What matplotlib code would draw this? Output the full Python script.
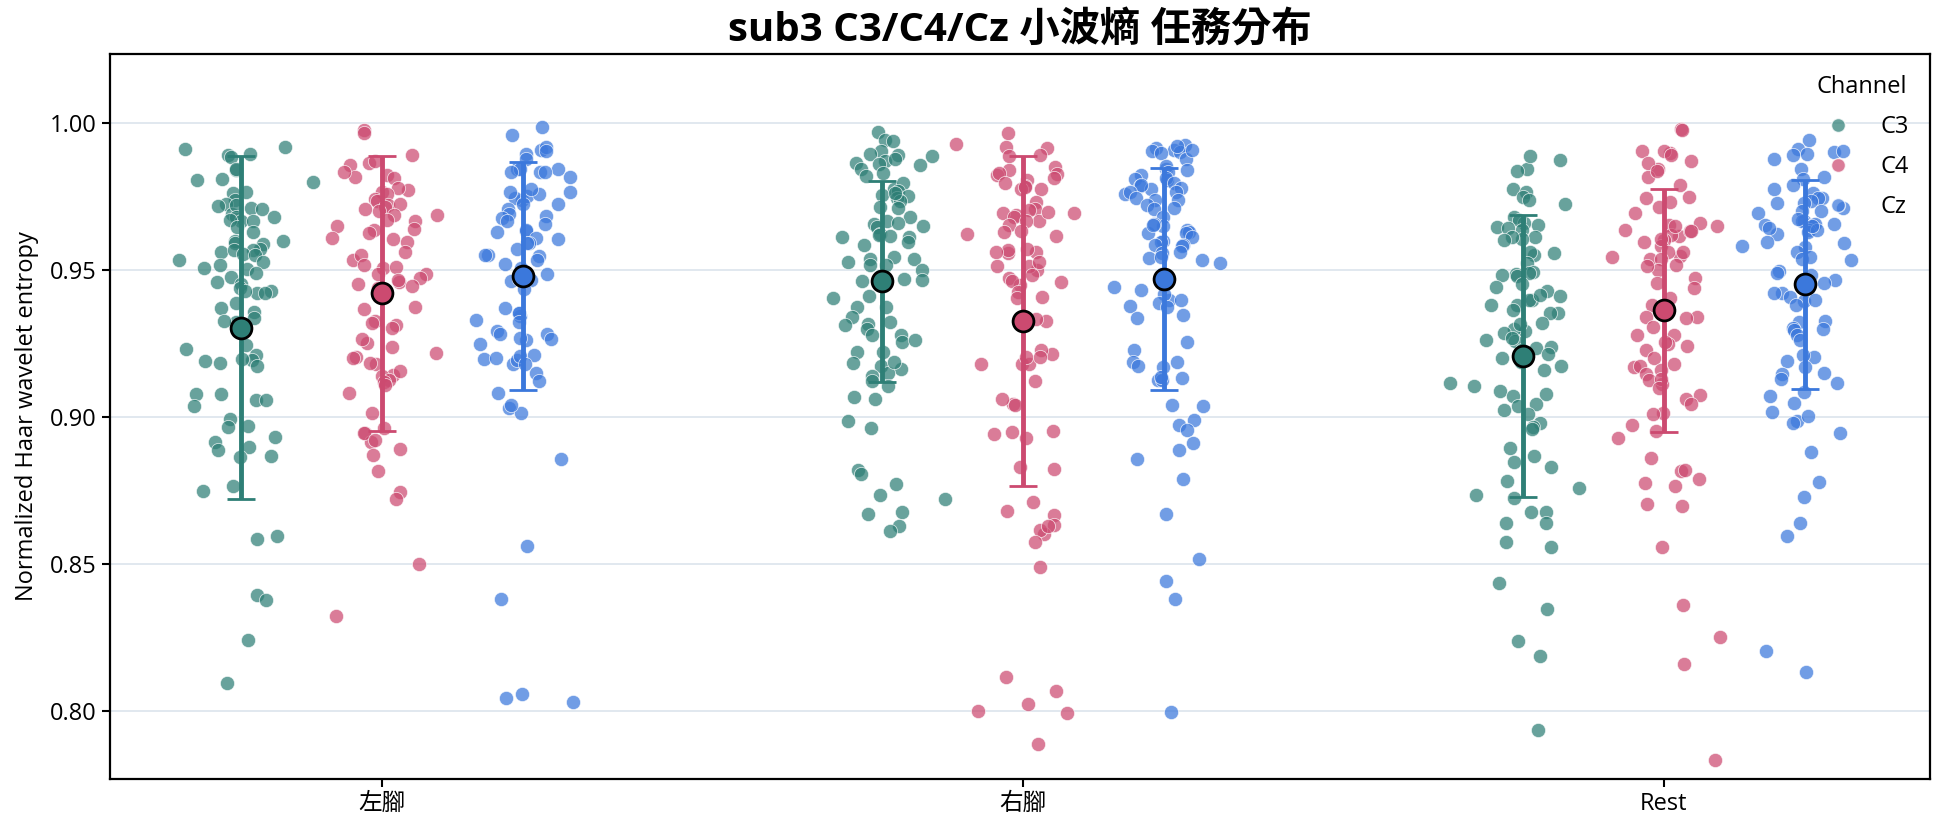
import matplotlib
matplotlib.use("Agg")
import matplotlib.pyplot as plt
import numpy as np
from matplotlib.lines import Line2D

plt.rcParams['font.family'] = ['Open Sans', 'Noto Sans CJK TC', 'DejaVu Sans']

## categories / channels
tasks = ['左腳', '右腳', 'Rest']
channels = ['C3', 'C4', 'Cz']
colors = {'C3': '#2e7f76', 'C4': '#cc4a70', 'Cz': '#3b78dc'}

## visible trial values (task, channel)
left_C3 = [0.9916, 0.9911, 0.9895, 0.9889, 0.9882, 0.9838, 0.9806, 0.9844, 0.9809, 0.9797,
           0.9766, 0.9762, 0.9737, 0.9724, 0.9718, 0.9689, 0.9711, 0.9720, 0.9708, 0.9680,
           0.9667, 0.9680, 0.9667, 0.9670, 0.9644, 0.9629, 0.9597, 0.9597, 0.9591, 0.9589,
           0.9559, 0.9566, 0.9572, 0.9566, 0.9553, 0.9549, 0.9534, 0.9528, 0.9515, 0.9505,
           0.9503, 0.9490, 0.9477, 0.9458, 0.9452, 0.9439, 0.9427, 0.9420, 0.9427, 0.9420,
           0.9389, 0.9370, 0.9357, 0.9338, 0.9323, 0.9325, 0.9243, 0.9230, 0.9209, 0.9192,
           0.9189, 0.9196, 0.9182, 0.9173, 0.9078, 0.9078, 0.9059, 0.9059, 0.9038, 0.8992,
           0.8971, 0.8965, 0.8933, 0.8916, 0.8897, 0.8889, 0.8867, 0.8863, 0.8766, 0.8747,
           0.8595, 0.8587, 0.8395, 0.8378, 0.8243, 0.8097]
left_C4 = [0.9976, 0.9965, 0.9891, 0.9855, 0.9863, 0.9870, 0.9823, 0.9813, 0.9817, 0.9834,
           0.9763, 0.9770, 0.9777, 0.9756, 0.9742, 0.9721, 0.9735, 0.9724, 0.9707, 0.9714,
           0.9700, 0.9685, 0.9671, 0.9685, 0.9667, 0.9639, 0.9650, 0.9636, 0.9624, 0.9605,
           0.9607, 0.9596, 0.9562, 0.9534, 0.9551, 0.9515, 0.9505, 0.9508, 0.9487, 0.9487,
           0.9459, 0.9423, 0.9473, 0.9466, 0.9444, 0.9451, 0.9437, 0.9366, 0.9373, 0.9313,
           0.9327, 0.9321, 0.9303, 0.9253, 0.9264, 0.9239, 0.9218, 0.9179, 0.9185, 0.9203,
           0.9199, 0.9144, 0.9157, 0.9140, 0.9125, 0.9118, 0.9108, 0.9083, 0.9012, 0.8962,
           0.8944, 0.8916, 0.8944, 0.8923, 0.8892, 0.8870, 0.8816, 0.8746, 0.8721, 0.8502,
           0.8325]
left_Cz = [0.9986, 0.9957, 0.9892, 0.9908, 0.9916, 0.9905, 0.9878, 0.9842, 0.9842, 0.9844,
           0.9831, 0.9831, 0.9817, 0.9834, 0.9763, 0.9736, 0.9743, 0.9752, 0.9756, 0.9766,
           0.9773, 0.9723, 0.9723, 0.9706, 0.9682, 0.9689, 0.9675, 0.9666, 0.9628, 0.9631,
           0.9655, 0.9635, 0.9608, 0.9605, 0.9590, 0.9590, 0.9571, 0.9549, 0.9547, 0.9549,
           0.9533, 0.9488, 0.9486, 0.9506, 0.9520, 0.9465, 0.9463, 0.9468, 0.9436, 0.9344,
           0.9355, 0.9371, 0.9355, 0.9330, 0.9323, 0.9292, 0.9283, 0.9265, 0.9249, 0.9263,
           0.9269, 0.9283, 0.9212, 0.9181, 0.9198, 0.9195, 0.9208, 0.9179, 0.9202, 0.9151,
           0.9124, 0.9083, 0.9032, 0.9015, 0.9042, 0.8859, 0.8562, 0.8383, 0.8045, 0.8058,
           0.8031]
right_C3 = [0.9970, 0.9942, 0.9938, 0.9905, 0.9886, 0.9893, 0.9889, 0.9871, 0.9878, 0.9864,
            0.9856, 0.9859, 0.9829, 0.9841, 0.9819, 0.9774, 0.9794, 0.9767, 0.9752, 0.9745,
            0.9755, 0.9733, 0.9760, 0.9715, 0.9711, 0.9678, 0.9666, 0.9656, 0.9660, 0.9648,
            0.9645, 0.9622, 0.9619, 0.9611, 0.9611, 0.9616, 0.9596, 0.9585, 0.9537, 0.9545,
            0.9536, 0.9518, 0.9527, 0.9515, 0.9500, 0.9463, 0.9467, 0.9478, 0.9470, 0.9444,
            0.9404, 0.9411, 0.9374, 0.9374, 0.9340, 0.9322, 0.9315, 0.9312, 0.9300, 0.9280,
            0.9280, 0.9255, 0.9263, 0.9221, 0.9221, 0.9185, 0.9174, 0.9162, 0.9151, 0.9188,
            0.9141, 0.9107, 0.9122, 0.9062, 0.9067, 0.8985, 0.8961, 0.8820, 0.8806, 0.8773,
            0.8736, 0.8721, 0.8677, 0.8669, 0.8628, 0.8614]
right_C4 = [0.9964, 0.9915, 0.9918, 0.9927, 0.9890, 0.9886, 0.9849, 0.9838, 0.9823, 0.9826,
            0.9829, 0.9804, 0.9812, 0.9785, 0.9774, 0.9782, 0.9774, 0.9794, 0.9730, 0.9708,
            0.9693, 0.9685, 0.9693, 0.9666, 0.9678, 0.9705, 0.9666, 0.9696, 0.9651, 0.9631,
            0.9622, 0.9628, 0.9614, 0.9556, 0.9567, 0.9562, 0.9562, 0.9571, 0.9512, 0.9500,
            0.9512, 0.9527, 0.9473, 0.9458, 0.9481, 0.9448, 0.9463, 0.9426, 0.9408, 0.9404,
            0.9325, 0.9334, 0.9215, 0.9226, 0.9181, 0.9181, 0.9181, 0.9203, 0.9203, 0.9122,
            0.9045, 0.9040, 0.9062, 0.8951, 0.8929, 0.8948, 0.8941, 0.8829, 0.8823, 0.8711,
            0.8681, 0.8666, 0.8632, 0.8602, 0.8616, 0.8629, 0.8577, 0.8491, 0.8117, 0.8068,
            0.8024, 0.7994, 0.8001, 0.7890]
right_Cz = [0.9923, 0.9915, 0.9908, 0.9901, 0.9920, 0.9905, 0.9897, 0.9878, 0.9908, 0.9844,
            0.9852, 0.9831, 0.9838, 0.9823, 0.9809, 0.9804, 0.9785, 0.9774, 0.9812, 0.9794,
            0.9789, 0.9779, 0.9757, 0.9764, 0.9764, 0.9745, 0.9737, 0.9737, 0.9720, 0.9708,
            0.9711, 0.9681, 0.9648, 0.9634, 0.9626, 0.9656, 0.9651, 0.9629, 0.9626, 0.9611,
            0.9599, 0.9596, 0.9586, 0.9586, 0.9582, 0.9559, 0.9540, 0.9556, 0.9542, 0.9534,
            0.9522, 0.9485, 0.9448, 0.9441, 0.9399, 0.9418, 0.9433, 0.9396, 0.9378, 0.9389,
            0.9374, 0.9337, 0.9347, 0.9255, 0.9226, 0.9187, 0.9188, 0.9169, 0.9174, 0.9125,
            0.9126, 0.9136, 0.9132, 0.9040, 0.9036, 0.8991, 0.8973, 0.8955, 0.8911, 0.8889,
            0.8858, 0.8788, 0.8672, 0.8516, 0.8444, 0.8380, 0.7999]
rest_C3 = [0.9874, 0.9844, 0.9837, 0.9886, 0.9774, 0.9764, 0.9749, 0.9737, 0.9723, 0.9681,
           0.9660, 0.9671, 0.9651, 0.9645, 0.9641, 0.9634, 0.9611, 0.9604, 0.9611, 0.9601,
           0.9552, 0.9556, 0.9562, 0.9522, 0.9493, 0.9482, 0.9485, 0.9478, 0.9488, 0.9453,
           0.9441, 0.9429, 0.9411, 0.9381, 0.9396, 0.9396, 0.9414, 0.9381, 0.9352, 0.9364,
           0.9352, 0.9292, 0.9300, 0.9315, 0.9319, 0.9285, 0.9258, 0.9270, 0.9260, 0.9237,
           0.9233, 0.9226, 0.9214, 0.9199, 0.9188, 0.9174, 0.9159, 0.9107, 0.9114, 0.9088,
           0.9077, 0.9070, 0.9037, 0.9045, 0.9025, 0.9010, 0.8978, 0.8966, 0.8958, 0.8895,
           0.8869, 0.8847, 0.8829, 0.8758, 0.8783, 0.8736, 0.8726, 0.8677, 0.8677, 0.8639,
           0.8639, 0.8577, 0.8558, 0.8435, 0.8346, 0.8239, 0.8187, 0.7935]
rest_C4 = [0.9978, 0.9975, 0.9904, 0.9896, 0.9905, 0.9889, 0.9871, 0.9844, 0.9815, 0.9864,
           0.9837, 0.9789, 0.9745, 0.9749, 0.9730, 0.9715, 0.9693, 0.9651, 0.9616, 0.9634,
           0.9631, 0.9660, 0.9619, 0.9648, 0.9648, 0.9631, 0.9596, 0.9601, 0.9582, 0.9604,
           0.9545, 0.9547, 0.9537, 0.9559, 0.9537, 0.9559, 0.9500, 0.9512, 0.9515, 0.9473,
           0.9455, 0.9438, 0.9404, 0.9381, 0.9340, 0.9340, 0.9337, 0.9307, 0.9277, 0.9280,
           0.9228, 0.9240, 0.9248, 0.9255, 0.9200, 0.9181, 0.9171, 0.9174, 0.9159, 0.9147,
           0.9126, 0.9111, 0.9129, 0.9099, 0.9074, 0.9062, 0.9043, 0.9013, 0.9010, 0.8973,
           0.8954, 0.8929, 0.8862, 0.8815, 0.8788, 0.8820, 0.8776, 0.8766, 0.8706, 0.8699,
           0.8558, 0.8362, 0.8251, 0.8162, 0.7835]
rest_Cz = [0.9941, 0.9911, 0.9901, 0.9904, 0.9889, 0.9893, 0.9878, 0.9844, 0.9816, 0.9809,
           0.9789, 0.9774, 0.9760, 0.9745, 0.9745, 0.9734, 0.9726, 0.9711, 0.9726, 0.9700,
           0.9700, 0.9693, 0.9666, 0.9666, 0.9651, 0.9656, 0.9656, 0.9651, 0.9674, 0.9634,
           0.9629, 0.9623, 0.9641, 0.9636, 0.9648, 0.9577, 0.9596, 0.9592, 0.9582, 0.9559,
           0.9533, 0.9537, 0.9542, 0.9497, 0.9467, 0.9488, 0.9482, 0.9436, 0.9423, 0.9455,
           0.9423, 0.9408, 0.9393, 0.9381, 0.9399, 0.9325, 0.9322, 0.9303, 0.9295, 0.9277,
           0.9300, 0.9260, 0.9203, 0.9211, 0.9191, 0.9148, 0.9147, 0.9171, 0.9117, 0.9129,
           0.9085, 0.9070, 0.9047, 0.9018, 0.8988, 0.8978, 0.9003, 0.8947, 0.8881, 0.8779,
           0.8728, 0.8639, 0.8595, 0.8206, 0.8135]

## mean and SD per task (rows) x channel (cols)
means = [[0.9304, 0.9420, 0.9479],
         [0.9461, 0.9325, 0.9470],
         [0.9208, 0.9362, 0.9451]]
sds = [[0.0582, 0.0467, 0.0387],
       [0.0341, 0.0561, 0.0377],
       [0.0479, 0.0413, 0.0355]]

data = {('左腳', 'C3'): left_C3, ('左腳', 'C4'): left_C4, ('左腳', 'Cz'): left_Cz,
        ('右腳', 'C3'): right_C3, ('右腳', 'C4'): right_C4, ('右腳', 'Cz'): right_Cz,
        ('Rest', 'C3'): rest_C3, ('Rest', 'C4'): rest_C4, ('Rest', 'Cz'): rest_Cz}

hue_offset = {'C3': -0.22, 'C4': 0.0, 'Cz': 0.22}

fig = plt.figure(figsize=(19.44, 8.27), dpi=100)
ax = fig.add_axes([0.0566, 0.058, 0.9362, 0.8773])

# jitter for the strip points (position only)
rng = np.random.default_rng(3)

for ti, task in enumerate(tasks):
    for ch in channels:
        vals = np.array(data[(task, ch)])
        xs = ti + hue_offset[ch] + np.clip(rng.normal(0, 0.034, len(vals)), -0.12, 0.12)
        ax.scatter(xs, vals, s=105, color=colors[ch], alpha=0.72,
                   edgecolor='white', linewidth=0.6, zorder=2)

for ti, task in enumerate(tasks):
    for ci, ch in enumerate(channels):
        ax.errorbar(ti + hue_offset[ch], means[ti][ci], yerr=sds[ti][ci], fmt='o',
                    color=colors[ch], ecolor=colors[ch], elinewidth=3.5,
                    capsize=10, capthick=2, markersize=15,
                    markeredgecolor='black', markeredgewidth=2, zorder=5)

ax.set_xlim(-0.424, 2.415)
ax.set_ylim(0.777, 1.0235)
ax.set_xticks(range(len(tasks)))
ax.set_xticklabels(tasks)
ax.set_yticks([0.80, 0.85, 0.90, 0.95, 1.00])
ax.set_yticklabels(['0.80', '0.85', '0.90', '0.95', '1.00'])
ax.tick_params(labelsize=17, length=6, width=1.5)
ax.yaxis.grid(True, color='#dce4ec', linewidth=1.2)
ax.set_axisbelow(True)
for sp in ax.spines.values():
    sp.set_linewidth(1.6)
    sp.set_color('black')

ax.set_ylabel('Normalized Haar wavelet entropy', fontsize=17, labelpad=8)
ax.set_title('sub3 C3/C4/Cz 小波熵 任務分布', fontsize=29, fontweight='bold', pad=9)

handles = [Line2D([], [], marker='o', linestyle='', markersize=10,
                  markerfacecolor=colors[ch], markeredgecolor='white', alpha=0.72)
           for ch in channels]
leg = ax.legend(handles, channels, title='Channel', loc='upper right', frameon=False,
                fontsize=17, title_fontsize=17, labelspacing=0.68, handletextpad=0.8)

fig.savefig('out.png', dpi=100)
